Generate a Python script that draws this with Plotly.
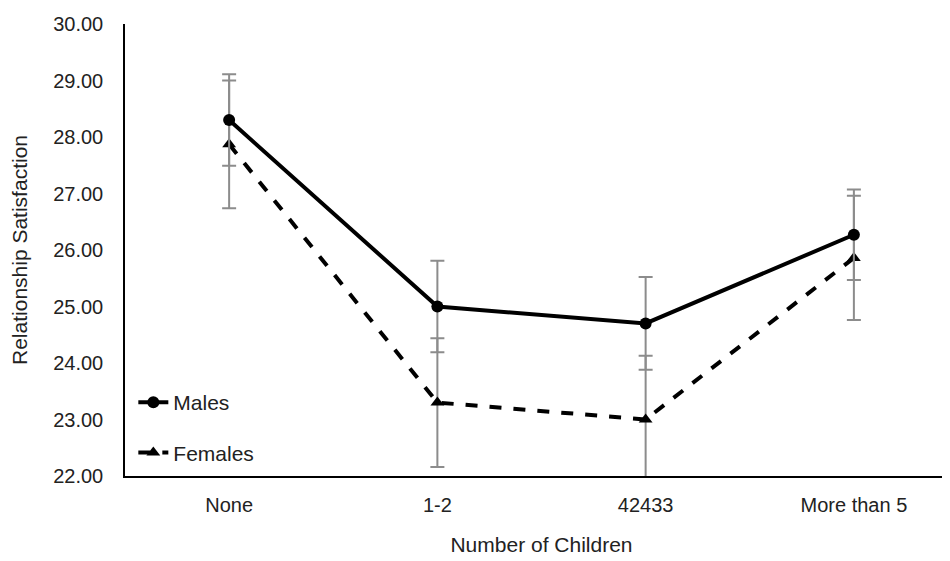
import plotly.graph_objects as go

categories = ["None", "1-2", "42433", "More than 5"]
males = [28.30, 25.00, 24.70, 26.27]
females = [27.87, 23.30, 23.00, 25.86]
males_err = [0.81, 0.81, 0.82, 0.80]
females_err = [1.13, 1.14, 1.13, 1.10]
y_ticks = [22, 23, 24, 25, 26, 27, 28, 29, 30]

fig = go.Figure()
fig.add_trace(go.Scatter(
    x=categories, y=females, name="Females", mode="lines+markers",
    line=dict(color="black", width=4, dash="dash"),
    marker=dict(symbol="triangle-up", size=12, color="black"),
    error_y=dict(type="data", array=females_err, color="#8c8c8c", thickness=2, width=7),
    legendgroup="f", legendrank=2,
))
fig.add_trace(go.Scatter(
    x=categories, y=males, name="Males", mode="lines+markers",
    line=dict(color="black", width=4),
    marker=dict(symbol="circle", size=12, color="black"),
    error_y=dict(type="data", array=males_err, color="#8c8c8c", thickness=2, width=7),
    legendgroup="m", legendrank=1,
))

fig.update_layout(
    width=950, height=561,
    margin=dict(l=117, r=0, t=16, b=93),
    paper_bgcolor="white", plot_bgcolor="white",
    font=dict(family="Liberation Sans, Arial, sans-serif", size=20, color="#222"),
    showlegend=True,
    legend=dict(x=0.01, y=0.208, xanchor="left", yanchor="top",
                bgcolor="rgba(0,0,0,0)", tracegroupgap=20,
                font=dict(size=21, color="#222")),
    xaxis=dict(
        range=[-0.5, 3.5], showline=True, linecolor="black", linewidth=1.5,
        showgrid=False, ticks="", tickfont=dict(size=20), automargin=False,
        title=dict(text="Number of Children", font=dict(size=21), standoff=23),
        ticklabelstandoff=10,
    ),
    yaxis=dict(
        range=[22, 30], tickvals=y_ticks, tickformat=".2f",
        showline=True, linecolor="black", linewidth=1.5, showgrid=False,
        ticks="", tickfont=dict(size=20), zeroline=False, automargin=False,
        title=dict(text="Relationship Satisfaction", font=dict(size=21), standoff=20),
        ticklabelstandoff=16,
    ),
)

fig.write_html("out.html")
